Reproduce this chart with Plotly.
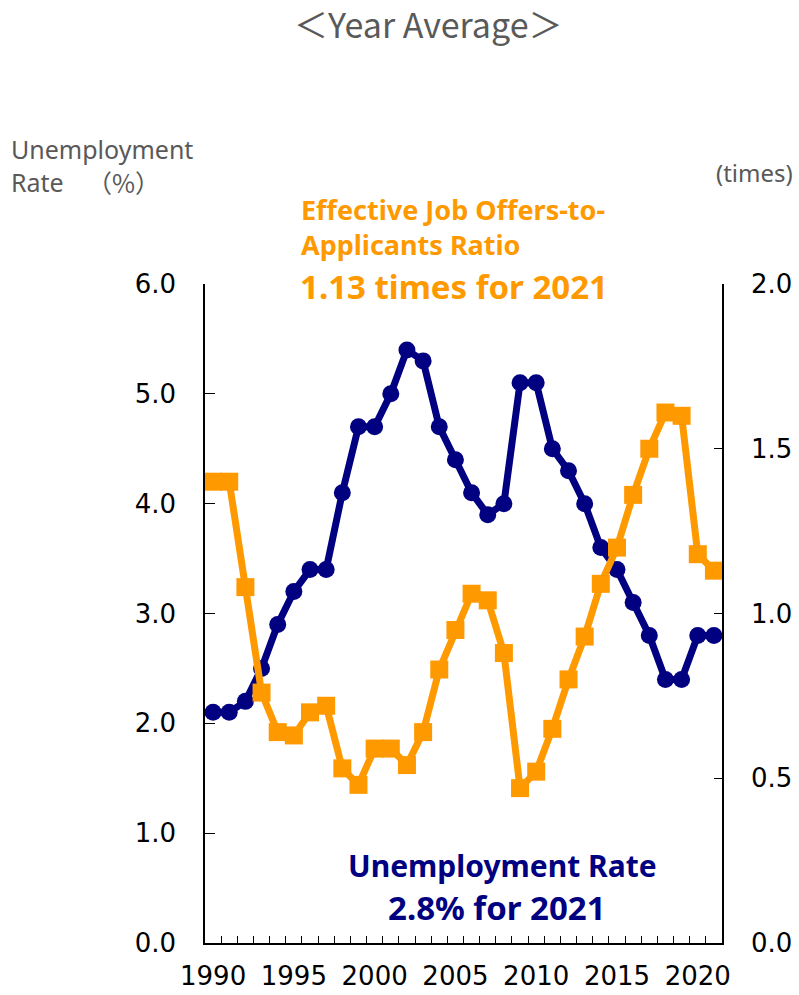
import plotly.graph_objects as go

# Annual averages, 1990-2021
years = list(range(1990, 2022))
unemployment_rate = [2.1, 2.1, 2.2, 2.5, 2.9, 3.2, 3.4, 3.4, 4.1, 4.7,
                     4.7, 5.0, 5.4, 5.3, 4.7, 4.4, 4.1, 3.9, 4.0, 5.1,
                     5.1, 4.5, 4.3, 4.0, 3.6, 3.4, 3.1, 2.8, 2.4, 2.4,
                     2.8, 2.8]
job_offers_ratio = [1.40, 1.40, 1.08, 0.76, 0.64, 0.63, 0.70, 0.72, 0.53, 0.48,
                    0.59, 0.59, 0.54, 0.64, 0.83, 0.95, 1.06, 1.04, 0.88, 0.47,
                    0.52, 0.65, 0.80, 0.93, 1.09, 1.20, 1.36, 1.50, 1.61, 1.60,
                    1.18, 1.13]

x_label_years = [1990, 1995, 2000, 2005, 2010, 2015, 2020]
year_boundaries = [y + 0.5 for y in range(1990, 2021)]
left_ticks = [0, 1, 2, 3, 4, 5, 6]
right_ticks = [0, 0.5, 1.0, 1.5, 2.0]

NAVY = "#000080"
ORANGE = "#FF9900"
GREY = "#595959"
FONT = "Noto Sans"
TICK_FONT = "DejaVu Sans"
CJK = "Noto Sans CJK JP"

W, H = 799, 995
L, R, T, B = 205, 722, 284, 943


def px(x):
    return (x - L) / (R - L)


def py(y):
    return (B - y) / (B - T)


fig = go.Figure()
fig.add_trace(go.Scatter(
    x=years, y=unemployment_rate, mode="lines+markers",
    line=dict(color=NAVY, width=7),
    marker=dict(symbol="circle", size=17, color=NAVY),
    yaxis="y", cliponaxis=False, showlegend=False))
fig.add_trace(go.Scatter(
    x=years, y=job_offers_ratio, mode="lines+markers",
    line=dict(color=ORANGE, width=7),
    marker=dict(symbol="square", size=18, color=ORANGE),
    yaxis="y2", cliponaxis=False, showlegend=False))

tick_font = dict(size=26, family=TICK_FONT, color="black")

fig.update_layout(
    width=W, height=H,
    margin=dict(l=L, r=W - R, t=T, b=H - B, autoexpand=False),
    paper_bgcolor="white", plot_bgcolor="white",
    font=dict(family=FONT, color="black", size=26),
    xaxis=dict(
        range=[1989.5, 2021.5], tickmode="array", tickvals=x_label_years,
        ticks="", showline=True, linecolor="black", linewidth=1.5,
        showgrid=False, zeroline=False, ticklabelstandoff=9,
        automargin=False, tickfont=tick_font,
        minor=dict(tickmode="array", tickvals=year_boundaries,
                   ticks="inside", ticklen=7, tickwidth=1.2,
                   tickcolor="black", showgrid=False),
    ),
    yaxis=dict(
        range=[0, 6], tickmode="array", tickvals=left_ticks,
        tickformat=".1f", ticks="inside", ticklen=10, tickwidth=1.2,
        tickcolor="black", showline=True, linecolor="black", linewidth=1.5,
        showgrid=False, zeroline=False, ticklabelstandoff=22,
        automargin=False, tickfont=tick_font,
    ),
    yaxis2=dict(
        range=[0, 2], tickmode="array", tickvals=right_ticks,
        tickformat=".1f", overlaying="y", side="right",
        ticks="inside", ticklen=8, tickwidth=1.2, tickcolor="black",
        showline=True, linecolor="black", linewidth=1.5,
        showgrid=False, zeroline=False, ticklabelstandoff=22,
        automargin=False, tickfont=tick_font,
    ),
)

annotations = [
    dict(text="＜Year Average＞", x=px(428), y=py(23), xanchor="center",
         yanchor="middle", font=dict(size=34, color=GREY, family=CJK)),
    dict(text="Unemployment", x=px(10), y=py(149), xanchor="left",
         yanchor="middle", font=dict(size=25, color=GREY)),
    dict(text="Rate", x=px(10), y=py(182), xanchor="left",
         yanchor="middle", font=dict(size=25, color=GREY)),
    dict(text="（%）", x=px(86), y=py(182), xanchor="left",
         yanchor="middle", font=dict(size=25, color=GREY, family=CJK)),
    dict(text="(times)", x=px(715), y=py(173), xanchor="left",
         yanchor="middle", font=dict(size=24, color=GREY)),
    dict(text="<b>Effective Job Offers-to-<br>Applicants Ratio</b>",
         x=px(300), y=py(227), xanchor="left", yanchor="middle",
         align="left", font=dict(size=27, color=ORANGE)),
    dict(text="<b>1.13 times for 2021</b>", x=px(299), y=py(286),
         xanchor="left", yanchor="middle",
         font=dict(size=33, color=ORANGE)),
    dict(text="<b>Unemployment Rate</b>", x=px(502), y=py(865),
         xanchor="center", yanchor="middle",
         font=dict(size=30, color=NAVY)),
    dict(text="<b>2.8% for 2021</b>", x=px(497), y=py(907),
         xanchor="center", yanchor="middle",
         font=dict(size=33, color=NAVY)),
]
for a in annotations:
    a.update(xref="paper", yref="paper", showarrow=False, borderpad=0)
fig.update_layout(annotations=annotations)

fig.write_html("out.html")
